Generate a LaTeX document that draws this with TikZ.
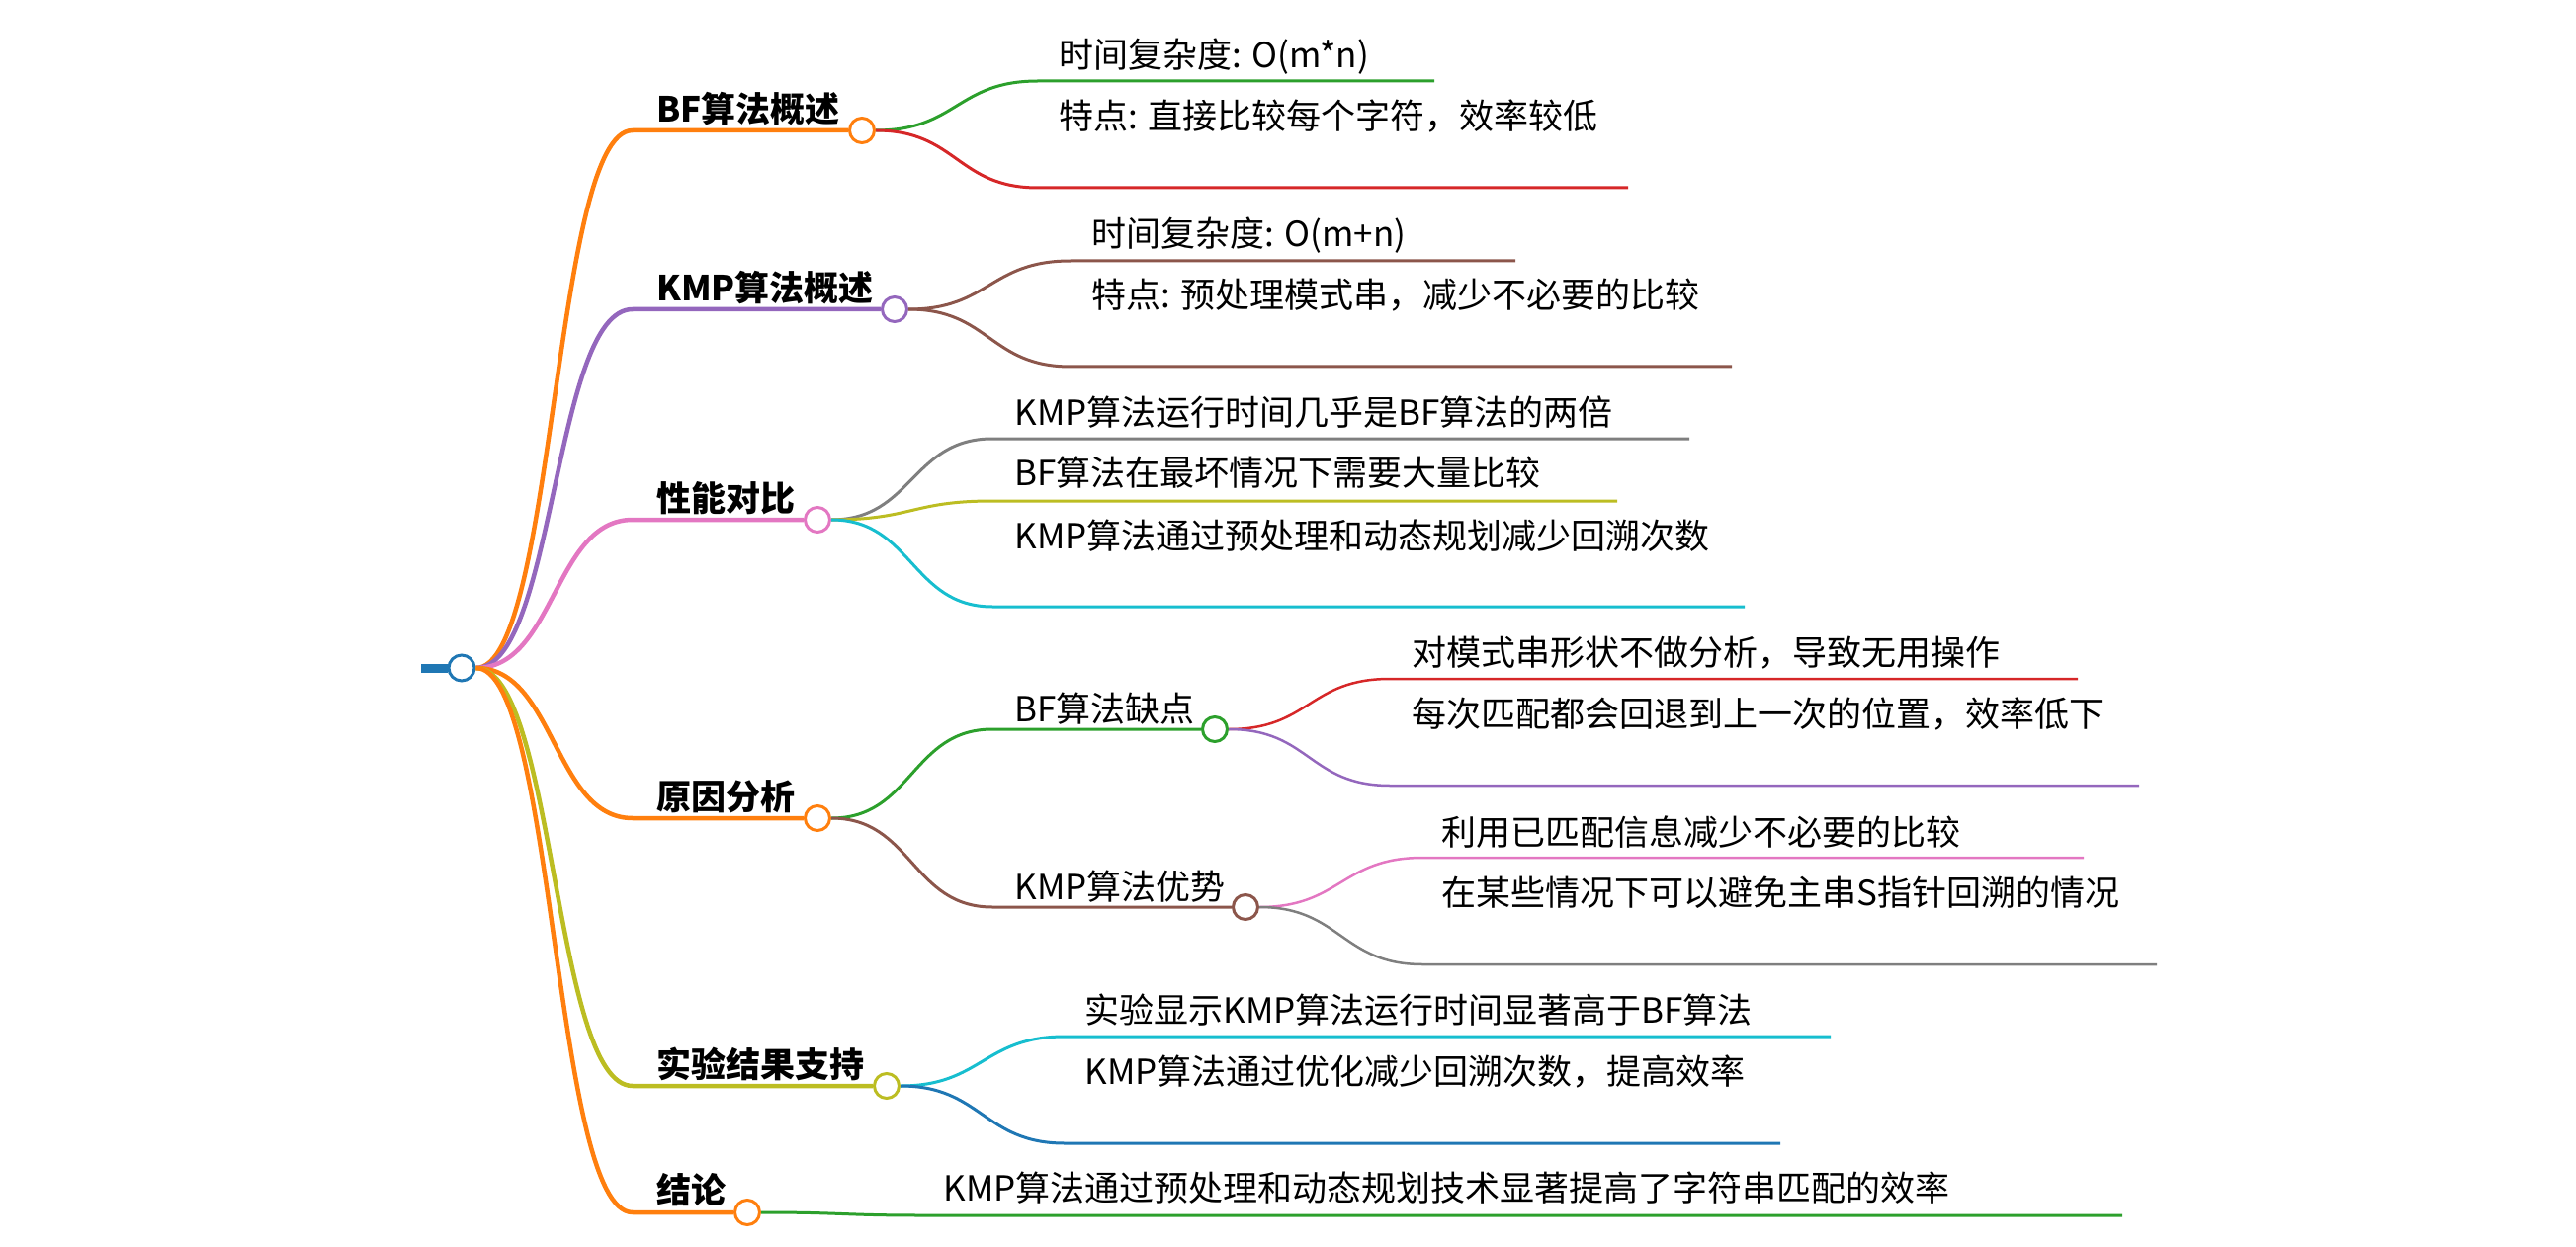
\documentclass[tikz,border=0pt]{standalone}
\usepackage{fontspec}
\newfontfamily\cjk{Noto Sans CJK SC}
\definecolor{mblue}{HTML}{1F77B4}
\definecolor{morange}{HTML}{FF7F0E}
\definecolor{mgreen}{HTML}{2CA02C}
\definecolor{mred}{HTML}{D62728}
\definecolor{mpurple}{HTML}{9467BD}
\definecolor{mbrown}{HTML}{8C564B}
\definecolor{mpink}{HTML}{E377C2}
\definecolor{mgrey}{HTML}{7F7F7F}
\definecolor{molive}{HTML}{BCBD22}
\definecolor{mcyan}{HTML}{17BECF}
\newcommand{\lsize}{\fontsize{17.5}{21}\selectfont}

\begin{document}
\begin{tikzpicture}[x=0.5pt,y=-0.5pt,
    txt/.style={anchor=west,inner sep=0pt,text height=15.4pt,text depth=2.1pt,font=\cjk\lsize},
    btxt/.style={txt,font=\cjk\bfseries\lsize},
    dot/.style={circle,draw=#1,fill=white,line width=1.5pt,inner sep=0pt,minimum size=12.5pt},
    br/.style={draw=#1,line width=2.25pt},
    sub/.style={draw=#1,line width=1.5pt},
    leaf/.style={draw=#1,line width=1.25pt}]
  \useasboundingbox (0,0) rectangle (2606,1262);

  % root
  \node[dot=mblue,minimum size=13pt] (root) at (467,676) {};
  \coordinate (stub) at (426,676);
  \draw[mblue,line width=4.5pt] (stub) -- (root.west);

  % BF算法概述
  \node[dot=morange] (bf) at (872,132) {};
  \node[btxt] (bft) at (664,110) {BF算法概述};
  \coordinate (bfs) at (640,132);
  \draw[br=morange] (root.east) .. controls +(80,0) and +(-80,0) .. (bfs) -- (bf.west);
  \coordinate (bf1s) at (1050,82);  \coordinate (bf1e) at (1451,82);
  \coordinate (bf2s) at (1050,190); \coordinate (bf2e) at (1647,190);
  \node[txt] (bf1) at (1071,55) {时间复杂度: O(m*n)};
  \node[txt] (bf2) at (1071,117) {特点: 直接比较每个字符，效率较低};
  \draw[sub=mgreen] (bf.east) .. controls +(82,0) and +(-82,0) .. (bf1s) -- (bf1e);
  \draw[sub=mred] (bf.east) .. controls +(82,0) and +(-82,0) .. (bf2s) -- (bf2e);

  % KMP算法概述
  \node[dot=mpurple] (kmp) at (905,313) {};
  \node[btxt] (kmpt) at (664,291) {KMP算法概述};
  \coordinate (kmps) at (640,313);
  \draw[br=mpurple] (root.east) .. controls +(80,0) and +(-80,0) .. (kmps) -- (kmp.west);
  \coordinate (kmp1s) at (1083,264); \coordinate (kmp1e) at (1533,264);
  \coordinate (kmp2s) at (1083,371); \coordinate (kmp2e) at (1752,371);
  \node[txt] (kmp1) at (1104,236) {时间复杂度: O(m+n)};
  \node[txt] (kmp2) at (1104,298) {特点: 预处理模式串，减少不必要的比较};
  \draw[sub=mbrown] (kmp.east) .. controls +(82,0) and +(-82,0) .. (kmp1s) -- (kmp1e);
  \draw[sub=mbrown] (kmp.east) .. controls +(82,0) and +(-82,0) .. (kmp2s) -- (kmp2e);

  % 性能对比
  \node[dot=mpink] (perf) at (827,526) {};
  \node[btxt] (perft) at (664,504) {性能对比};
  \coordinate (perfs) at (640,526);
  \draw[br=mpink] (root.east) .. controls +(80,0) and +(-80,0) .. (perfs) -- (perf.west);
  \coordinate (perf1s) at (1004,444); \coordinate (perf1e) at (1709,444);
  \coordinate (perf2s) at (1004,507); \coordinate (perf2e) at (1636,507);
  \coordinate (perf3s) at (1004,614); \coordinate (perf3e) at (1765,614);
  \node[txt] (perf1) at (1026,417) {KMP算法运行时间几乎是BF算法的两倍};
  \node[txt] (perf2) at (1026,478) {BF算法在最坏情况下需要大量比较};
  \node[txt] (perf3) at (1026,542) {KMP算法通过预处理和动态规划减少回溯次数};
  \draw[sub=mgrey] (perf.east) .. controls +(82,0) and +(-82,0) .. (perf1s) -- (perf1e);
  \draw[sub=molive] (perf.east) .. controls +(82,0) and +(-82,0) .. (perf2s) -- (perf2e);
  \draw[sub=mcyan] (perf.east) .. controls +(82,0) and +(-82,0) .. (perf3s) -- (perf3e);

  % 原因分析
  \node[dot=morange] (why) at (827,828) {};
  \node[btxt] (whyt) at (664,806) {原因分析};
  \coordinate (whys) at (640,828);
  \draw[br=morange] (root.east) .. controls +(80,0) and +(-80,0) .. (whys) -- (why.west);
  \node[dot=mgreen] (bfbad) at (1229,738) {};
  \node[txt] (bfbadt) at (1026,717) {BF算法缺点};
  \coordinate (bfbads) at (1004,738);
  \draw[sub=mgreen] (why.east) .. controls +(82,0) and +(-82,0) .. (bfbads) -- (bfbad.west);
  \node[dot=mbrown] (kmpgood) at (1260,918) {};
  \node[txt] (kmpgoodt) at (1026,897) {KMP算法优势};
  \coordinate (kmpgoods) at (1004,918);
  \draw[sub=mbrown] (why.east) .. controls +(82,0) and +(-82,0) .. (kmpgoods) -- (kmpgood.west);
  \coordinate (bad1s) at (1406,687); \coordinate (bad1e) at (2102,687);
  \coordinate (bad2s) at (1406,795); \coordinate (bad2e) at (2164,795);
  \node[txt] (bad1) at (1428,660) {对模式串形状不做分析，导致无用操作};
  \node[txt] (bad2) at (1428,722) {每次匹配都会回退到上一次的位置，效率低下};
  \draw[leaf=mred] (bfbad.east) .. controls +(82,0) and +(-82,0) .. (bad1s) -- (bad1e);
  \draw[leaf=mpurple] (bfbad.east) .. controls +(82,0) and +(-82,0) .. (bad2s) -- (bad2e);
  \coordinate (good1s) at (1439,868); \coordinate (good1e) at (2108,868);
  \coordinate (good2s) at (1439,976); \coordinate (good2e) at (2182,976);
  \node[txt] (good1) at (1458,842) {利用已匹配信息减少不必要的比较};
  \node[txt] (good2) at (1458,903) {在某些情况下可以避免主串S指针回溯的情况};
  \draw[leaf=mpink] (kmpgood.east) .. controls +(82,0) and +(-82,0) .. (good1s) -- (good1e);
  \draw[leaf=mgrey] (kmpgood.east) .. controls +(82,0) and +(-82,0) .. (good2s) -- (good2e);

  % 实验结果支持
  \node[dot=molive] (exp) at (897,1099) {};
  \node[btxt] (expt) at (664,1077) {实验结果支持};
  \coordinate (exps) at (640,1099);
  \draw[br=molive] (root.east) .. controls +(80,0) and +(-80,0) .. (exps) -- (exp.west);
  \coordinate (exp1s) at (1077,1049); \coordinate (exp1e) at (1852,1049);
  \coordinate (exp2s) at (1077,1157); \coordinate (exp2e) at (1801,1157);
  \node[txt] (exp1) at (1097,1022) {实验显示KMP算法运行时间显著高于BF算法};
  \node[txt] (exp2) at (1097,1084) {KMP算法通过优化减少回溯次数，提高效率};
  \draw[sub=mcyan] (exp.east) .. controls +(82,0) and +(-82,0) .. (exp1s) -- (exp1e);
  \draw[sub=mblue] (exp.east) .. controls +(82,0) and +(-82,0) .. (exp2s) -- (exp2e);

  % 结论
  \node[dot=morange] (end) at (756,1227) {};
  \node[btxt] (endt) at (664,1204) {结论};
  \coordinate (ends) at (640,1227);
  \draw[br=morange] (root.east) .. controls +(80,0) and +(-80,0) .. (ends) -- (end.west);
  \coordinate (end1s) at (934,1230); \coordinate (end1e) at (2147,1230);
  \node[txt] (end1) at (954,1202) {KMP算法通过预处理和动态规划技术显著提高了字符串匹配的效率};
  \draw[sub=mgreen] (end.east) .. controls +(82,0) and +(-82,0) .. (end1s) -- (end1e);
\end{tikzpicture}
\end{document}
